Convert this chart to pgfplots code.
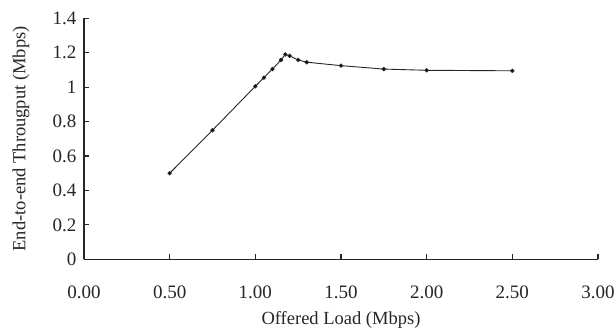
\documentclass[border=0pt]{standalone}
\usepackage{pgfplots}
\pgfplotsset{compat=1.18}
\usepackage{fontspec}
\setmainfont{Liberation Serif}
\begin{document}
\begin{tikzpicture}[x=1pt,y=1pt]
\path[use as bounding box] (0,0) rectangle (614,332);
\begin{axis}[
  at={(84pt,72.7pt)}, anchor=south west,
  scale only axis, width=514pt, height=241pt,
  xmin=0, xmax=3, ymin=0, ymax=1.4,
  axis lines=left, axis line style={-, line width=1.1pt, black!85},
  tick align=inside, major tick length=5pt,
  tick style={line width=1.1pt, black!85},
  xtick={0,0.5,1,1.5,2,2.5,3},
  ytick={0,0.2,0.4,0.6,0.8,1,1.2,1.4},
  xticklabel style={/pgf/number format/fixed, /pgf/number format/precision=2, /pgf/number format/fixed zerofill, yshift=-23pt},
  /pgf/number format/assume math mode=true,
  ticklabel style={font=\fontsize{19}{19}\selectfont, text=black!85},
  yticklabel style={xshift=-4pt},
  xlabel={Offered Load (Mbps)},
  ylabel={End-to-end Througput (Mbps)},
  every axis x label/.style={at={(axis description cs:0.5,0)}, anchor=center, yshift=-61pt, font=\fontsize{18.5}{18.5}\selectfont, text=black!85},
  every axis y label/.style={at={(axis description cs:0,0.5)}, xshift=-63pt, rotate=90, anchor=center, font=\fontsize{18.5}{18.5}\selectfont, text=black!85},
]
\addplot[black!85, line width=0.9pt, mark=*, mark size=1.7pt, mark options={fill=black}] coordinates {
(0.5,0.5) (0.75,0.75) (1.0,1.005) (1.05,1.055) (1.1,1.105) (1.15,1.158) (1.175,1.19) (1.2,1.182) (1.25,1.158) (1.3,1.145) (1.5,1.125) (1.75,1.105) (2.0,1.098) (2.5,1.095)
};
\end{axis}
\end{tikzpicture}
\end{document}
